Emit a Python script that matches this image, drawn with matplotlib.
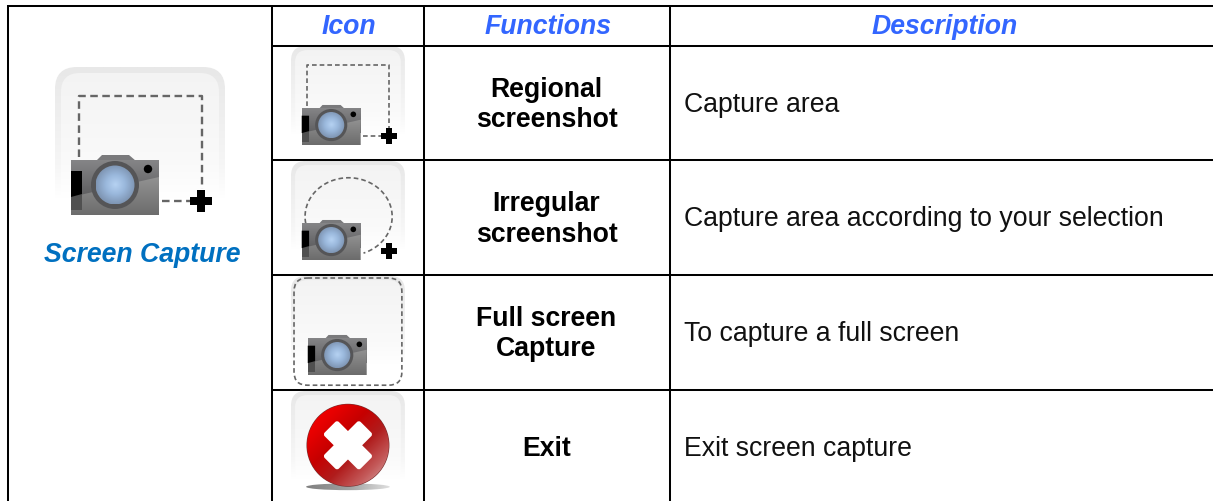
import numpy as np
import matplotlib
matplotlib.use('Agg')
import matplotlib.pyplot as plt
from matplotlib.patches import Rectangle, Circle, FancyBboxPatch, Polygon, Ellipse
from matplotlib.colors import LinearSegmentedColormap
from matplotlib.transforms import Affine2D

plt.rcParams['font.family'] = ['Liberation Sans', 'DejaVu Sans']

# table content
headers = ['Icon', 'Functions', 'Description']
left_label = 'Screen Capture'
functions = ['Regional\nscreenshot', 'Irregular\nscreenshot', 'Full screen\nCapture', 'Exit']
descriptions = ['Capture area', 'Capture area according to your selection',
                'To capture a full screen', 'Exit screen capture']

# grid lines in pixels
col_x = [8, 272, 424, 670]
row_y = [6, 46, 160, 274.5, 389.5]
row_mid = [103.5, 218, 332.5, 447]

W, H = 1213, 501
fig = plt.figure(figsize=(W / 100, H / 100), dpi=100)
ax = fig.add_axes([0, 0, 1, 1])
ax.set_xlim(0, W)
ax.set_ylim(H, 0)
ax.axis('off')

cm = LinearSegmentedColormap.from_list
edge_cmap = cm('edge', [(0, '#e8e8e8'), (0.6, '#f6f6f6'), (0.8, '#ffffff'), (1, '#ffffff')])
bg_cmap = cm('bg', [(0, '#f3f3f3'), (0.6, '#fafafa'), (0.8, '#ffffff'), (1, '#ffffff')])
body_cmap = cm('body', ['#858587', '#5e5e60'])
low_cmap = cm('low', ['#929292', '#6c6c6c'])
lens_cmap = cm('lens', ['#b6d2f2', '#9ab8dc', '#7f96b4'])
red_cmap = cm('red', ['#ff0000', '#e80000', '#c60000', '#b01c1c', '#c45a5a', '#dcb0b0'])
shadow_cmap = cm('shadow', ['#808080', '#a0a0a0', '#e0e0e0'])


def gradient(cmap, extent, clip, angle=0, z=2, radial=False):
    # small image clipped to a patch, angle 0 is top to bottom
    n = 80
    yy, xx = np.mgrid[0:1:n * 1j, 0:1:n * 1j]
    if radial:
        g = np.minimum(np.hypot(xx - 0.5, yy - 0.5) * 2, 1)
    else:
        a = np.deg2rad(angle)
        g = yy * np.cos(a) + xx * np.sin(a)
        g = (g - g.min()) / (g.max() - g.min())
    im = ax.imshow(g, cmap=cmap, extent=extent, origin='upper', zorder=z, vmin=0, vmax=1,
                   interpolation='bilinear', aspect='auto')
    im.set_clip_path(clip)
    ax.set_xlim(0, W)
    ax.set_ylim(H, 0)
    return im


def icon_bg(x, y, s):
    w, h = 170 * s, 165 * s
    r = 22 * s
    base = FancyBboxPatch((x + r, y + r), w - 2 * r, h - 2 * r, boxstyle=f'round,pad={r}',
                          fc='none', ec='none', zorder=1)
    ax.add_patch(base)
    gradient(edge_cmap, (x, x + w, y + h, y), base, z=1)
    r2 = 19 * s
    inner = FancyBboxPatch((x + 6 * s + r2, y + 6 * s + r2), w - 12 * s - 2 * r2, h - 6 * s - 2 * r2,
                           boxstyle=f'round,pad={r2}', fc='none', ec='none', zorder=1.5)
    ax.add_patch(inner)
    gradient(bg_cmap, (x, x + w, y + h, y), inner, z=1.5)


def camera(x, y, s):
    # x, y is the top left of the body rectangle
    w, h = 88 * s, 55 * s
    ax.add_patch(Polygon([(x + 25 * s, y + 1), (x + 31 * s, y - 5 * s), (x + 58 * s, y - 5 * s), (x + 65 * s, y + 1)],
                         fc='#7a7a7c', ec='none', zorder=3))
    body = Rectangle((x, y), w, h, fc='none', ec='none', zorder=3)
    ax.add_patch(body)
    gradient(body_cmap, (x, x + w, y + 37 * s, y), body, z=3)
    low = Polygon([(x, y + h), (x, y + 37 * s), (x + w, y + 17 * s), (x + w, y + h)], fc='none', ec='none', zorder=3.1)
    ax.add_patch(low)
    gradient(low_cmap, (x, x + w, y + h, y + 17 * s), low, z=3.1)
    ax.add_patch(Rectangle((x, y + 11 * s), 11 * s, 39 * s, fc='#505050', ec='none', zorder=3.2))
    ax.add_patch(Polygon([(x, y + 11 * s), (x + 11 * s, y + 11 * s), (x + 11 * s, y + 34 * s), (x, y + 37 * s)],
                         fc='#000000', ec='none', zorder=3.3))
    cx, cy = x + 44 * s, y + 25 * s
    ax.add_patch(Circle((cx, cy), 24 * s, fc='#555557', ec='none', zorder=3.4))
    lens = Circle((cx, cy), 19.5 * s, fc='none', ec='none', zorder=3.5)
    ax.add_patch(lens)
    gradient(lens_cmap, (cx - 19.5 * s, cx + 19.5 * s, cy + 19.5 * s, cy - 19.5 * s), lens, z=3.5, radial=True)
    ax.add_patch(Circle((x + 77 * s, y + 9 * s), 4.2 * s, fc='#000000', ec='none', zorder=3.6))


def plus(cx, cy, s):
    s = max(s, 0.72)
    ax.add_patch(Rectangle((cx - 11 * s, cy - 4 * s), 22 * s, 8 * s, fc='black', ec='none', zorder=4))
    ax.add_patch(Rectangle((cx - 4 * s, cy - 11 * s), 8 * s, 22 * s, fc='black', ec='none', zorder=4))


def dashes(xs, ys, s):
    big = s > 0.9
    ax.plot(xs, ys, color='#666666', lw=1.7 if big else 1.2, dashes=(3.2, 1.9) if big else (2.8, 1.8),
            zorder=2.5, dash_capstyle='butt', scalex=False, scaley=False)


def regional_icon(x, y, s):
    icon_bg(x, y, s)
    dashes([x + 24 * s, x + 24 * s, x + 147 * s, x + 147 * s],
           [y + 90 * s, y + 29 * s, y + 29 * s, y + 122 * s], s)
    dashes([x + 107 * s, x + 135 * s], [y + 134 * s, y + 134 * s], s)
    camera(x + 16 * s, y + 93 * s, s)
    plus(x + 146 * s, y + 134 * s, s)


def irregular_icon(x, y, s):
    icon_bg(x, y, s)
    t = np.deg2rad(np.linspace(190, -70, 90))
    cx, cy, rx, ry = x + 86 * s, y + 83 * s, 65 * s, 58 * s
    dashes(cx + rx * np.cos(t), cy - ry * np.sin(t), s)
    camera(x + 16 * s, y + 93 * s, s)
    plus(x + 146 * s, y + 134 * s, s)


def full_icon(x, y, s):
    icon_bg(x, y, s)
    r = 20 * s
    ax.add_patch(FancyBboxPatch((x + 4.5 * s + r, y + 3 * s + r), 161 * s - 2 * r, 160 * s - 2 * r,
                                boxstyle=f'round,pad={r}', fc='none', ec='#666666',
                                lw=1.2, ls=(0, (2.8, 1.8)), zorder=2.5))
    camera(x + 25 * s, y + 93 * s, s)


def exit_icon(x, y, s):
    icon_bg(x, y, s)
    shadow = Ellipse((x + 85 * s, y + 143 * s), 125 * s, 10 * s, fc='none', ec='none', zorder=2)
    ax.add_patch(shadow)
    gradient(shadow_cmap, (x + 22 * s, x + 148 * s, y + 149 * s, y + 137 * s), shadow, angle=90, z=2)
    cx, cy, r = x + 85 * s, y + 81 * s, 61 * s
    ax.add_patch(Circle((cx, cy), r + 0.6, fc='#7a3030', ec='none', zorder=3))
    disc = Circle((cx, cy), r, fc='none', ec='none', zorder=3.1)
    ax.add_patch(disc)
    gradient(red_cmap, (cx - r, cx + r, cy + r, cy - r), disc, angle=45, z=3.1)
    a, b = 38 * s, 15 * s
    tr = Affine2D().rotate_deg(45).translate(cx, cy) + ax.transData
    for dx, dy in [(a, b), (b, a)]:
        ax.add_patch(FancyBboxPatch((-dx + 4 * s, -dy + 4 * s), 2 * dx - 8 * s, 2 * dy - 8 * s,
                                    boxstyle=f'round,pad={4 * s}', fc='white', ec='none',
                                    transform=tr, zorder=3.5))


# icons
regional_icon(55, 67, 1.0)
small = 0.67
regional_icon(291, 46, small)
irregular_icon(291, 161, small)
full_icon(291, 276, small)
exit_icon(291, 391, small)

# grid
lw = 1.45
for x in col_x:
    ax.plot([x, x], [row_y[0] - 1, H], color='black', lw=lw, zorder=6, solid_capstyle='butt')
for i, y in enumerate(row_y):
    x0 = col_x[0] if i == 0 else col_x[1]
    ax.plot([x0, W], [y, y], color='black', lw=lw, zorder=6, solid_capstyle='butt')

# text
header_x = [349, 548, 945]
for hx, h in zip(header_x, headers):
    ax.text(hx, 27, h, color='#3366ff', fontsize=19.2, fontweight='bold', fontstyle='italic',
            ha='center', va='center')
ax.text(142, 255, left_label, color='#0070c0', fontsize=19.2, fontweight='bold', fontstyle='italic',
        ha='center', va='center')
for ym, f, d in zip(row_mid, functions, descriptions):
    ax.text(546.5, ym + 1.5, f, color='black', fontsize=19.2, fontweight='bold', ha='center', va='center',
            linespacing=1.24)
    ax.text(684, ym + 1.5, d, color='#111111', fontsize=19.2, ha='left', va='center')

fig.savefig('out.png', dpi=100, facecolor='white')
